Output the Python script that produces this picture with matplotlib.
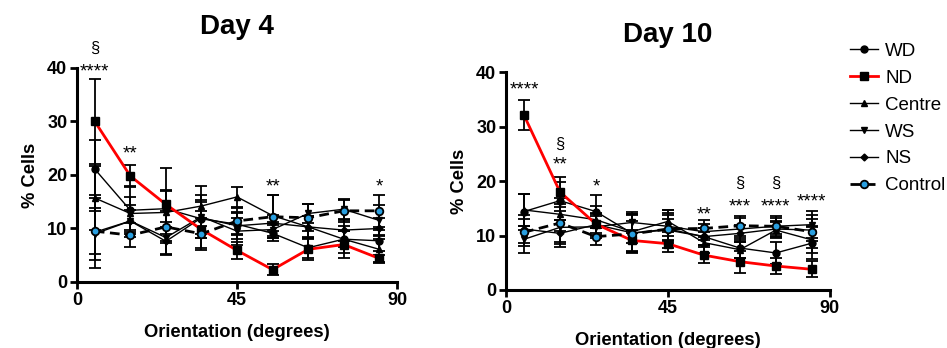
import matplotlib
matplotlib.use("Agg")
import matplotlib.pyplot as plt
from matplotlib.lines import Line2D

plt.rcParams['font.family'] = ['Liberation Sans', 'DejaVu Sans']

orientation = [5, 15, 25, 35, 45, 55, 65, 75, 85]
series_names = ["WD", "ND", "Centre", "WS", "NS", "Control"]

# Day 4 means
d4_WD = [21.1, 13.4, 13.7, 11.8, 10.8, 9.1, 6.4, 8.0, 7.7]
d4_ND = [30.0, 19.8, 14.5, 9.8, 5.9, 2.3, 6.1, 7.0, 4.4]
d4_Centre = [15.7, 12.8, 13.0, 14.2, 15.9, 12.4, 10.3, 8.0, 6.1]
d4_WS = [9.0, 11.4, 8.3, 12.2, 9.5, 9.8, 12.8, 13.6, 11.5]
d4_NS = [9.3, 11.4, 7.6, 12.0, 10.5, 11.0, 10.3, 9.7, 10.0]
d4_Control = [9.5, 8.75, 10.3, 9.0, 11.4, 12.2, 12.0, 13.3, 13.3]
# Day 4 errors
d4_WD_err = [5.4, 4.5, 3.4, 3.5, 2.0, 1.5, 2.0, 2.5, 2.0]
d4_ND_err = [8.0, 2.0, 6.8, 3.5, 1.6, 1.0, 2.0, 2.5, 0.6]
d4_Centre_err = [6.0, 3.0, 4.0, 3.8, 1.8, 3.8, 2.0, 1.5, 2.5]
d4_WS_err = [4.9, 3.0, 3.0, 4.0, 2.5, 1.5, 1.8, 2.0, 2.8]
d4_NS_err = [4.0, 2.0, 2.5, 3.0, 2.5, 1.5, 2.0, 2.0, 2.0]
d4_Control_err = [6.8, 2.3, 3.0, 3.0, 2.5, 4.0, 2.5, 2.0, 3.0]

# Day 10 means
d10_WD = [14.4, 16.4, 14.4, 10.4, 11.2, 9.8, 7.7, 6.8, 8.6]
d10_ND = [32.1, 18.0, 12.1, 9.1, 8.5, 6.4, 5.2, 4.4, 3.8]
d10_Centre = [14.7, 13.9, 12.9, 10.7, 12.6, 8.7, 7.4, 11.0, 9.2]
d10_WS = [9.3, 11.5, 11.6, 12.4, 11.7, 10.7, 11.2, 11.7, 12.0]
d10_NS = [11.2, 10.4, 12.0, 10.5, 11.0, 9.8, 10.4, 11.2, 11.0]
d10_Control = [10.6, 12.3, 9.8, 10.3, 11.2, 11.3, 11.8, 11.7, 10.7]
# Day 10 errors
d10_WD_err = [3.3, 3.5, 3.0, 3.5, 2.5, 1.5, 1.8, 2.0, 3.0]
d10_ND_err = [2.7, 2.8, 2.0, 2.0, 1.5, 1.5, 2.0, 1.5, 1.5]
d10_Centre_err = [3.0, 3.0, 2.5, 2.0, 2.0, 2.0, 1.5, 1.5, 2.5]
d10_WS_err = [2.5, 3.0, 2.0, 2.0, 2.5, 1.5, 2.0, 1.5, 2.5]
d10_NS_err = [2.5, 2.5, 2.0, 3.5, 2.0, 1.5, 1.5, 1.5, 2.0]
d10_Control_err = [2.5, 3.5, 1.5, 3.5, 3.5, 1.5, 1.8, 1.8, 3.0]

# significance annotations: (x, y, text)
d4_annot = [(5, 39.2, "****"), (5, 43.6, "§"), (15, 23.9, "**"), (55, 17.7, "**"), (85, 17.7, "*")]
d10_annot = [(5, 36.8, "****"), (15, 26.8, "§"), (15, 22.9, "**"), (25, 18.9, "*"),
             (55, 13.7, "**"), (65, 19.5, "§"), (65, 15.2, "***"),
             (75, 19.5, "§"), (75, 15.2, "****"), (85, 16.1, "****")]

styles = {
    "WD": dict(color="black", marker="o", ms=5, lw=1.0, ls="-", mfc="black"),
    "ND": dict(color="red", marker="s", ms=5.5, lw=2.0, ls="-", mfc="black", mec="black"),
    "Centre": dict(color="black", marker="^", ms=5, lw=1.0, ls="-", mfc="black"),
    "WS": dict(color="black", marker="v", ms=5, lw=1.0, ls="-", mfc="black"),
    "NS": dict(color="black", marker="D", ms=3.5, lw=1.0, ls="-", mfc="black"),
    "Control": dict(color="black", marker="o", ms=5.5, lw=2.0, ls=(0, (3.5, 2)), mfc="#2a9fe0", mec="black", mew=1.3),
}

fig = plt.figure(figsize=(9.47, 3.48), dpi=100)
ax1 = fig.add_axes([0.0813, 0.1897, 0.338, 0.615])
ax2 = fig.add_axes([0.5343, 0.1667, 0.342, 0.626])

def draw(ax, means, errs, annots, title, title_y):
    for name, m, e in zip(series_names, means, errs):
        st = dict(styles[name])
        ax.errorbar(orientation, m, yerr=e, ecolor="black", elinewidth=1.3, capsize=4, capthick=1.3,
                    zorder=3 if name in ("ND", "Control") else 2, **st)
    for x, y, t in annots:
        fs = 12 if t == "§" else 13.5
        ax.text(x, y, t, ha="center", va="center", fontsize=fs, clip_on=False)
    ax.set_xlim(0, 90)
    ax.set_ylim(0, 40)
    ax.set_xticks([0, 45, 90])
    ax.set_yticks([0, 10, 20, 30, 40])
    for s in ("top", "right"):
        ax.spines[s].set_visible(False)
    for s in ("left", "bottom"):
        ax.spines[s].set_linewidth(2.2)
    ax.tick_params(width=2, length=5, labelsize=13, pad=2)
    for lab in ax.get_xticklabels() + ax.get_yticklabels():
        lab.set_fontweight("bold")
    ax.set_xlabel("Orientation (degrees)", fontsize=13.2, fontweight="bold", labelpad=11)
    ax.set_ylabel("% Cells", fontsize=13.2, fontweight="bold", labelpad=6)
    ax.set_title(title, fontsize=20, fontweight="bold", y=title_y)

draw(ax1, [d4_WD, d4_ND, d4_Centre, d4_WS, d4_NS, d4_Control],
     [d4_WD_err, d4_ND_err, d4_Centre_err, d4_WS_err, d4_NS_err, d4_Control_err],
     d4_annot, "Day 4", 1.12)
draw(ax2, [d10_WD, d10_ND, d10_Centre, d10_WS, d10_NS, d10_Control],
     [d10_WD_err, d10_ND_err, d10_Centre_err, d10_WS_err, d10_NS_err, d10_Control_err],
     d10_annot, "Day 10", 1.1)

handles = []
for name in series_names:
    st = dict(styles[name])
    handles.append(Line2D([], [], **st))
fig.legend(handles, series_names, loc="upper left", bbox_to_anchor=(0.8976, 0.877),
           frameon=False, fontsize=13.5, handlelength=1.5, handletextpad=0.37, labelspacing=0.52,
           borderaxespad=0, borderpad=0)

fig.savefig("out.png", dpi=100)
